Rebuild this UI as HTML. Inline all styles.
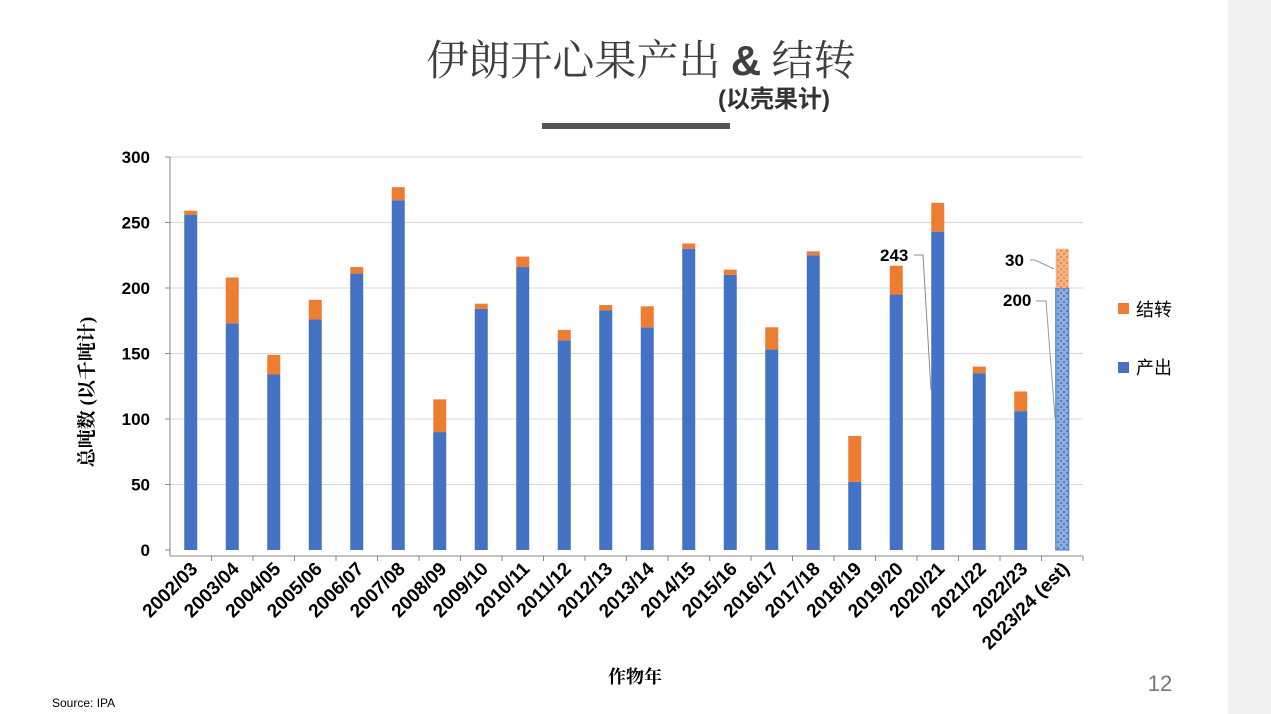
<!DOCTYPE html>
<html><head><meta charset="utf-8"><style>
html,body{margin:0;padding:0;}
body{width:1271px;height:714px;background:#fff;position:relative;overflow:hidden;font-family:"Liberation Sans","Noto Sans CJK SC",sans-serif;}
</style></head><body>
<div style="position:absolute;left:1228px;top:0;width:43px;height:714px;background:#f0f0f0"></div>
<svg width="1271" height="714" style="position:absolute;left:0;top:0">
<defs>
<pattern id="pb" width="6" height="6" patternUnits="userSpaceOnUse"><rect width="6" height="6" fill="#8faadc"/><circle cx="2" cy="2" r="1" fill="#4472c4"/><circle cx="5" cy="5" r="1" fill="#4472c4"/></pattern>
<pattern id="po" width="6" height="6" patternUnits="userSpaceOnUse"><rect width="6" height="6" fill="#f4b183"/><circle cx="2" cy="2" r="1" fill="#ed7d31"/><circle cx="5" cy="5" r="1" fill="#ed7d31"/></pattern>
</defs>
<text x="641" y="75" text-anchor="middle" font-family="'Liberation Serif','Noto Serif CJK SC',serif" font-size="42" fill="#404040">伊朗开心果产出 <tspan font-family="'Liberation Sans',sans-serif" font-weight="bold">&amp;</tspan> 结转</text>
<text x="774" y="107" text-anchor="middle" font-size="24" font-weight="bold" fill="#333">(以壳果计)</text>
<rect x="542" y="123" width="188" height="6" fill="#555"/>
<g id="grid"></g><g id="bars"></g><g id="labels"></g>
<text transform="translate(93,392) rotate(-90)" text-anchor="middle" font-family="'Liberation Serif','Noto Serif CJK SC',serif" font-size="19" font-weight="bold" fill="#000">总吨数 (以千吨计)</text>
<text x="635" y="683" text-anchor="middle" font-family="'Liberation Serif','Noto Serif CJK SC',serif" font-size="18" font-weight="bold" fill="#000">作物年</text>
<rect x="1118" y="303" width="11" height="11" fill="#ed7d31"/>
<text x="1136" y="316" font-size="18" fill="#000">结转</text>
<rect x="1118" y="362" width="11" height="11" fill="#4472c4"/>
<text x="1136" y="374" font-size="18" fill="#000">产出</text>
<text x="880" y="261" font-size="17" font-weight="bold">243</text>
<polyline points="914,255 923,255 931,390" fill="none" stroke="#888" stroke-width="1"/>
<text x="1005" y="266" font-size="17" font-weight="bold">30</text>
<polyline points="1030,260 1035,260 1054,269" fill="none" stroke="#999" stroke-width="1"/>
<text x="1003" y="306" font-size="17" font-weight="bold">200</text>
<polyline points="1036,301 1046,301 1055,418" fill="none" stroke="#999" stroke-width="1"/>
<text x="1160" y="691" text-anchor="middle" font-size="22" fill="#777">12</text>
<text x="52" y="707" font-size="12" fill="#000">Source: IPA</text>
</svg>
<script>
const categories=["2002/03","2003/04","2004/05","2005/06","2006/07","2007/08","2008/09","2009/10","2010/11","2011/12","2012/13","2013/14","2014/15","2015/16","2016/17","2017/18","2018/19","2019/20","2020/21","2021/22","2022/23","2023/24 (est)"];
const production=[256,173,134,176,211,267,90,184,216,160,183,170,230,210,153,225,52,195,243,135,106,200];
const carryover=[3,35,15,15,5,10,25,4,8,8,4,16,4,4,17,3,35,22,22,5,15,30];
const yTicks=[0,50,100,150,200,250,300];
const NS='http://www.w3.org/2000/svg';
const x0=170,x1=1083,yTop=157,yBot=550,yMax=300;
const band=(x1-x0)/categories.length;
const y=v=>yBot-(v/yMax)*(yBot-yTop);
const xc=i=>x0+band*(i+0.5);
const bw=13;
function mk(tag,attrs,parent){const e=document.createElementNS(NS,tag);for(const k in attrs)e.setAttribute(k,attrs[k]);parent.appendChild(e);return e;}
const grid=document.getElementById('grid'),bars=document.getElementById('bars'),labels=document.getElementById('labels');
yTicks.forEach(t=>{
  if(t>0){const g=mk('line',{x1:x0,x2:x1,y1:y(t),y2:y(t),stroke:'#d9d9d9','stroke-width':1},grid);
  
  }
  const tk=mk('line',{x1:x0-5,x2:x0,y1:y(t),y2:y(t),stroke:'#888'},grid);
  
  
  const tx=mk('text',{x:150,y:y(t)+6,'text-anchor':'end','font-size':17,'font-weight':'bold',fill:'#000'},labels);
  tx.textContent=t;
  
  
});
const ya=mk('line',{x1:x0,x2:x0,y1:yTop,y2:556,stroke:'#888'},grid);


const xa=mk('line',{x1:x0,x2:x1,y1:556,y2:556,stroke:'#888'},grid);


categories.forEach((c,i)=>{
  const last=i===categories.length-1;
  const tk=mk('line',{x1:x0+band*(i+1),x2:x0+band*(i+1),y1:556,y2:561,stroke:'#888'},grid);
  
  
  const p=mk('rect',{x:xc(i)-bw/2,y:y(production[i]),width:bw,height:y(0)-y(production[i]),fill:last?'url(#pb)':'#4472c4',stroke:last?'#4472c4':'none'},bars);
  
  
  const tot=production[i]+carryover[i];
  const o=mk('rect',{x:xc(i)-bw/2,y:y(tot),width:bw,height:y(production[i])-y(tot),fill:last?'url(#po)':'#ed7d31'},bars);
  
  
  const tx=mk('text',{transform:`translate(${xc(i)+8},${570}) rotate(-45)`,'text-anchor':'end','font-size':19,'font-weight':'bold',fill:'#000'},labels);
  tx.textContent=c;
  
  
});
</script>
</body></html>
